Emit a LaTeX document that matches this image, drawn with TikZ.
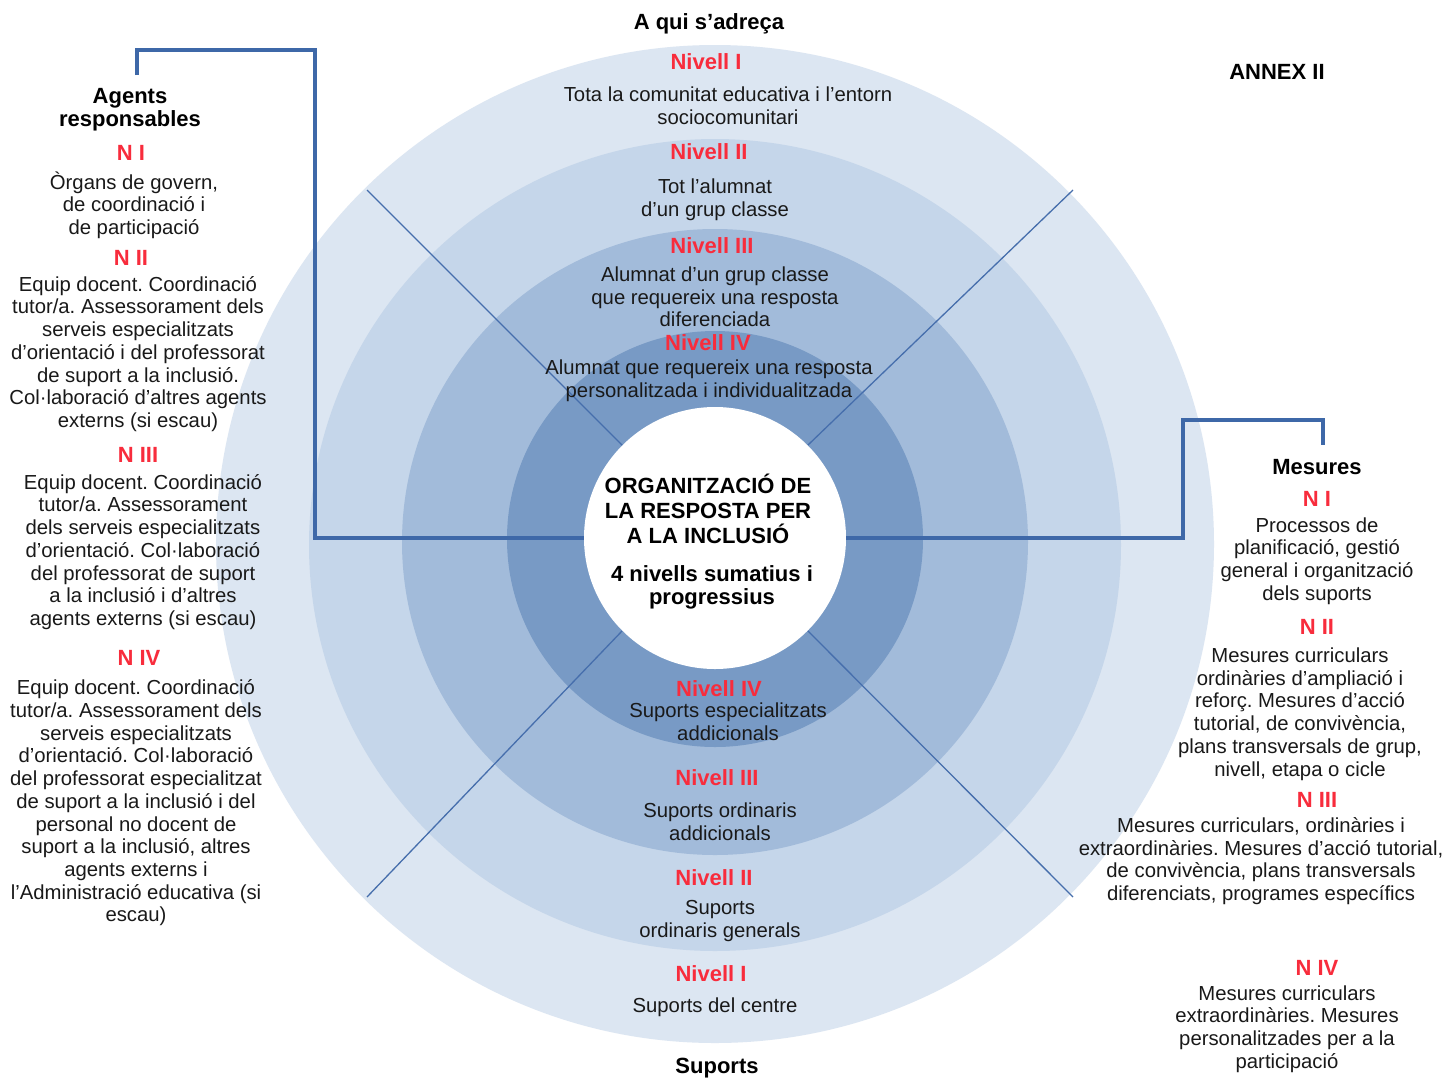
\documentclass[tikz,border=0pt]{standalone}
\usepackage{fontspec}
\setmainfont{Liberation Sans}
\frenchspacing
\definecolor{ringa}{RGB}{220,230,242}
\definecolor{ringb}{RGB}{197,214,234}
\definecolor{ringc}{RGB}{162,187,218}
\definecolor{ringd}{RGB}{120,154,197}
\definecolor{linkblue}{RGB}{62,104,168}
\definecolor{spokeblue}{RGB}{70,110,172}
\definecolor{nivred}{RGB}{248,44,60}
\definecolor{inkgrey}{RGB}{25,25,25}

\begin{document}
\begin{tikzpicture}[x=1pt,y=-1pt,
    lvl/.style={text=nivred,font=\bfseries\fontsize{22}{25}\selectfont,inner sep=0pt},
    txt/.style={align=center,text=inkgrey,font=\fontsize{20.3}{22.7}\selectfont,inner sep=0pt},
    head/.style={align=center,font=\bfseries\fontsize{22}{23.3}\selectfont,inner sep=0pt},
    link/.style={draw=linkblue,line width=3.5pt},
    spoke/.style={draw=spokeblue,line width=1.3pt}]
  \useasboundingbox[fill=white] (0,0) rectangle (1449,1080);
  % the four levels
  \fill[ringa] (715,544) circle[radius=499pt];
  \fill[ringb] (715,545) circle[radius=406pt];
  \fill[ringc] (715,542) circle[radius=313pt];
  \fill[ringd] (715,539) circle[radius=208pt];
  \node[circle,fill=white,minimum size=262pt,inner sep=0pt] (centre) at (715,538) {};

  \coordinate (nw) at (367,190);
  \coordinate (ne) at (1073,190);
  \coordinate (sw) at (367,897);
  \coordinate (se) at (1073,897);
  \foreach \a/\c in {135/nw,45/ne,225/sw,315/se}
    \draw[spoke] (centre.\a) -- (\c);

  \coordinate (ltop) at (137,75);
  \coordinate (lcorner) at (315,50);
  \coordinate (rcorner) at (1183,420);
  \coordinate (rtop) at (1323,445);
  \draw[link] (ltop) |- (lcorner) |- (centre.west);
  \draw[link] (centre.east) -| (rcorner) -| (rtop);

  % centre
  \node[head,font=\bfseries\fontsize{22}{25}\selectfont] (titol) at (708,509)
    {ORGANITZACIÓ DE\\LA RESPOSTA PER\\A LA INCLUSIÓ};
  \node[head] (sumatius) at (712,587) {4 nivells sumatius i\\progressius};

  % a qui s'adreça
  \node[head] (aqui) at (709,24) {A qui s’adreça};
  \node[head] (annex) at (1277,72) {ANNEX II};
  \node[lvl] (tI) at (706,62) {Nivell I};
  \node[txt] (tIt) at (728,106) {Tota la comunitat educativa i l’entorn\\sociocomunitari};
  \node[lvl] (tII) at (709,152) {Nivell II};
  \node[txt] (tIIt) at (715,200) {Tot l'alumnat\\d'un grup classe};
  \node[lvl] (tIII) at (712,246) {Nivell III};
  \node[txt] (tIIIt) at (715,297) {Alumnat d'un grup classe\\que requereix una resposta\\diferenciada};
  \node[lvl] (tIV) at (708,343) {Nivell IV};
  \node[txt] (tIVt) at (709,381) {Alumnat que requereix una resposta\\personalitzada i individualitzada};

  % suports
  \node[lvl] (bIV) at (719,689) {Nivell IV};
  \node[txt] (bIVt) at (728,722) {Suports especialitzats\\addicionals};
  \node[lvl] (bIII) at (717,778) {Nivell III};
  \node[txt] (bIIIt) at (720,822) {Suports ordinaris\\addicionals};
  \node[lvl] (bII) at (714,878) {Nivell II};
  \node[txt] (bIIt) at (720,921) {Suports\\ordinaris generals};
  \node[lvl] (bI) at (711,974) {Nivell I};
  \node[txt] (bIt) at (715,1007) {Suports del centre};
  \node[head] (suports) at (717,1068) {Suports};

  % agents responsables
  \node[head] (agents) at (130,110) {Agents\\responsables};
  \node[lvl] (aI) at (131,153) {N I};
  \node[txt] (aIt) at (134,205) {Òrgans de govern,\\de coordinació i\\de participació};
  \node[lvl] (aII) at (131,258) {N II};
  \node[txt] (aIIt) at (138,354) {Equip docent. Coordinació\\tutor/a. Assessorament dels\\serveis especialitzats\\d'orientació i del professorat\\de suport a la inclusió.\\Col·laboració d'altres agents\\externs (si escau)};
  \node[lvl] (aIII) at (138,455) {N III};
  \node[txt] (aIIIt) at (143,552) {Equip docent. Coordinació\\tutor/a. Assessorament\\dels serveis especialitzats\\d'orientació. Col·laboració\\del professorat de suport\\a la inclusió i d’altres\\agents externs (si escau)};
  \node[lvl] (aIV) at (139,658) {N IV};
  \node[txt] (aIVt) at (136,803) {Equip docent. Coordinació\\tutor/a. Assessorament dels\\serveis especialitzats\\d'orientació. Col·laboració\\del professorat especialitzat\\de suport a la inclusió i del\\personal no docent de\\suport a la inclusió, altres\\agents externs i\\l'Administració educativa (si\\escau)};

  % mesures
  \node[head] (mesures) at (1317,467) {Mesures};
  \node[lvl] (mI) at (1317,499) {N I};
  \node[txt] (mIt) at (1317,561) {Processos de\\planificació, gestió\\general i organització\\dels suports};
  \node[lvl] (mII) at (1317,627) {N II};
  \node[txt] (mIIt) at (1300,714) {Mesures curriculars\\ordinàries d'ampliació i\\reforç. Mesures d’acció\\tutorial, de convivència,\\plans transversals de grup,\\nivell, etapa o cicle};
  \node[lvl] (mIII) at (1317,800) {N III};
  \node[txt] (mIIIt) at (1261,861) {Mesures curriculars, ordinàries i\\extraordinàries. Mesures d’acció tutorial,\\de convivència, plans transversals\\diferenciats, programes específics};
  \node[lvl] (mIV) at (1317,968) {N IV};
  \node[txt] (mIVt) at (1287,1029) {Mesures curriculars\\extraordinàries. Mesures\\personalitzades per a la\\participació};
\end{tikzpicture}
\end{document}
